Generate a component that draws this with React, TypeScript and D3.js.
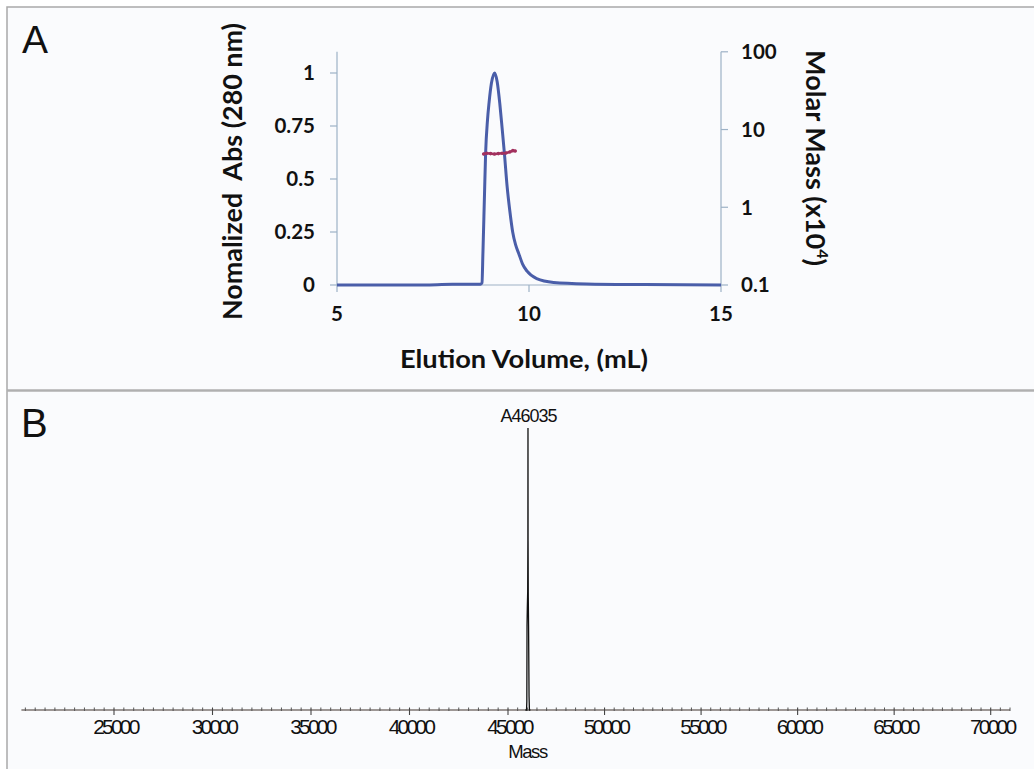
import React from "react";
import * as d3 from "d3";

// Panel A: SEC-MALS
const elutionVolume = [5, 7, 8, 8.5, 8.74, 8.776, 8.8, 8.84, 8.87, 8.92, 8.96, 9.02, 9.105, 9.17, 9.24, 9.3, 9.36, 9.43, 9.5, 9.575, 9.65, 9.73, 9.83, 9.95, 10.2, 10.64, 11.5, 13, 15];
const normAbs = [0, 0, 0.003, 0.004, 0.004, 0.01, 0.15, 0.42, 0.62, 0.78, 0.86, 0.95, 1.0, 0.96, 0.855, 0.74, 0.62, 0.465, 0.35, 0.25, 0.19, 0.15, 0.1, 0.065, 0.03, 0.012, 0.005, 0.002, 0];
const massVolume = [8.82, 8.9, 9.0, 9.1, 9.2, 9.3, 9.4, 9.5, 9.58, 9.64];
const molarMass = [4.85, 4.95, 4.9, 4.85, 4.9, 4.95, 5.0, 5.15, 5.35, 5.3];
const absTicks = [0, 0.25, 0.5, 0.75, 1];
const absTickLabels = ["0", "0.25", "0.5", "0.75", "1"];
const massTicks = [0.1, 1, 10, 100];
const massTickLabels = ["0.1", "1", "10", "100"];
const volumeTicks = [5, 10, 15];

// Panel B: deconvoluted mass spectrum
const specMass = [45900, 45960, 45975, 45985, 46000, 46020, 46030, 46035, 46040, 46050, 46065, 46090, 46110, 46160];
const specIntensity = [0, 0, 0.03, 0.3, 0.36, 0.42, 0.6, 1.0, 0.6, 0.4, 0.3, 0.05, 0, 0];
const specMajorTicks = [25000, 30000, 35000, 40000, 45000, 50000, 55000, 60000, 65000, 70000];
const peakLabel = "A46035";

export default function App() {
  // Panel A scales
  const xA = d3.scaleLinear().domain([5, 15]).range([337, 721]);
  const yA = d3.scaleLinear().domain([0, 1.1]).range([285, 51.8]);
  const yM = d3.scaleLog().domain([0.1, 100]).range([285, 51.8]);

  const absLine = d3
    .line<number>()
    .x((_, i) => xA(elutionVolume[i]))
    .y((d) => yA(d))
    .curve(d3.curveMonotoneX)(normAbs) as string;

  const massLine = d3
    .line<number>()
    .x((_, i) => xA(massVolume[i]))
    .y((d) => yM(d))
    .curve(d3.curveMonotoneX)(molarMass) as string;

  // Panel B scales
  const xB = d3.scaleLinear().domain([25000, 45000, 70000]).range([114, 508, 990.7]);
  const yB = d3.scaleLinear().domain([0, 1]).range([710, 428]);
  const bMin = 20300;
  const bMax = 71000;
  const minorTicks = d3.range(20500, 71001, 500).filter((m) => m % 5000 !== 0);

  const specLine = d3
    .line<number>()
    .x((_, i) => xB(specMass[i]))
    .y((d) => yB(d))
    .curve(d3.curveLinear)(specIntensity) as string;

  const axisColA = "#9db2c6";
  const fontA = "Lato, 'Open Sans', sans-serif";
  const fontB = "'Liberation Sans', Arial, sans-serif";

  return (
    <svg
      width={1034}
      height={769}
      style={{ position: "absolute", left: 0, top: 0, background: "#ffffff" }}
    >
      {/* frame */}
      <rect x={7} y={7} width={1040} height={770} fill="#fafbfd" stroke="#a9a9a9" strokeWidth={1.5} />
      <line x1={7} x2={1034} y1={390.5} y2={390.5} stroke="#b0b0b0" strokeWidth={2.5} />

      {/* Panel A */}
      <text x={22} y={53} fontFamily={fontB} fontSize={39} fill="#111">A</text>

      {/* axes */}
      <line x1={xA(5)} x2={xA(5)} y1={yA(1.1)} y2={yA(0)} stroke={axisColA} strokeWidth={1.2} />
      <line x1={xA(15)} x2={xA(15)} y1={yM(100)} y2={yM(0.1)} stroke={axisColA} strokeWidth={1.2} />
      <line x1={xA(5)} x2={xA(15)} y1={yA(0)} y2={yA(0)} stroke={axisColA} strokeWidth={1.2} />
      {absTicks.map((t, i) => (
        <g key={"la" + t}>
          <line x1={xA(5) - 7} x2={xA(5)} y1={yA(t)} y2={yA(t)} stroke={axisColA} strokeWidth={1.2} />
          <text x={315} y={yA(t)} dy="0.36em" textAnchor="end" fontFamily={fontA} fontWeight={700} fontSize={20.5} fill="#111">
            {absTickLabels[i]}
          </text>
        </g>
      ))}
      {massTicks.map((t, i) => (
        <g key={"ra" + t}>
          <line x1={xA(15)} x2={xA(15) + 7} y1={yM(t)} y2={yM(t)} stroke={axisColA} strokeWidth={1.2} />
          <text x={741} y={yM(t)} dy="0.36em" textAnchor="start" fontFamily={fontA} fontWeight={700} fontSize={20.5} fill="#111">
            {massTickLabels[i]}
          </text>
        </g>
      ))}
      {volumeTicks.map((t) => (
        <g key={"xa" + t}>
          <line x1={xA(t)} x2={xA(t)} y1={yA(0)} y2={yA(0) + 7} stroke={axisColA} strokeWidth={1.2} />
          <text x={xA(t)} y={320.5} textAnchor="middle" fontFamily={fontA} fontWeight={700} fontSize={20.5} fill="#111">
            {t}
          </text>
        </g>
      ))}

      <path d={absLine} fill="none" stroke="#4a5ea9" strokeWidth={3} strokeLinejoin="round" />
      <path d={massLine} fill="none" stroke="#a2305e" strokeWidth={2.5} strokeLinecap="round" />
      {massVolume.map((v, i) => (
        <circle key={"mm" + i} cx={xA(v)} cy={yM(molarMass[i])} r={1.8} fill="#a2305e" />
      ))}

      <text x={524} y={367.5} textAnchor="middle" fontFamily={fontA} fontWeight={700} fontSize={24} fill="#111" textLength={248} lengthAdjust="spacingAndGlyphs">
        Elution Volume, (mL)
      </text>
      <text
        transform="translate(242,171.5) rotate(-90)"
        textAnchor="middle"
        fontFamily={fontA}
        fontWeight={700}
        fontSize={26}
        fill="#111"
        textLength={297}
        lengthAdjust="spacingAndGlyphs"
        xmlSpace="preserve"
      >
        Nomalized  Abs (280 nm)
      </text>
      <text
        transform="translate(806,158) rotate(90)"
        textAnchor="middle"
        fontFamily={fontA}
        fontWeight={700}
        fontSize={27}
        fill="#111"
      >
        Molar Mass (x10<tspan fontSize={16} dy={-11}>4</tspan><tspan dy={11}>)</tspan>
      </text>

      {/* Panel B */}
      <text x={21} y={437} fontFamily={fontB} fontSize={40} fill="#111">B</text>

      <line x1={xB(bMin)} x2={xB(bMax)} y1={yB(0)} y2={yB(0)} stroke="#7d7470" strokeWidth={1.3} />
      {minorTicks.map((m) => (
        <line key={"mt" + m} x1={xB(m)} x2={xB(m)} y1={yB(0) - 2.5} y2={yB(0) + 1} stroke="#555" strokeWidth={1} />
      ))}
      {specMajorTicks.map((m) => (
        <g key={"Mt" + m}>
          <line x1={xB(m)} x2={xB(m)} y1={yB(0) - 2.5} y2={yB(0) + 5} stroke="#444" strokeWidth={1.1} />
          <text x={xB(m) + 1.4} y={733.5} textAnchor="middle" fontFamily={fontB} fontSize={21} letterSpacing={-2.8} fill="#111">
            {m}
          </text>
        </g>
      ))}
      <path d={specLine} fill="none" stroke="#111" strokeWidth={1.3} />
      <text x={xB(46035) + 0.5} y={421.5} textAnchor="middle" fontFamily={fontB} fontSize={18} letterSpacing={-1} fill="#111">
        {peakLabel}
      </text>
      <text x={527.5} y={758} textAnchor="middle" fontFamily={fontB} fontSize={18.5} letterSpacing={-1.4} fill="#111">
        Mass
      </text>
    </svg>
  );
}
